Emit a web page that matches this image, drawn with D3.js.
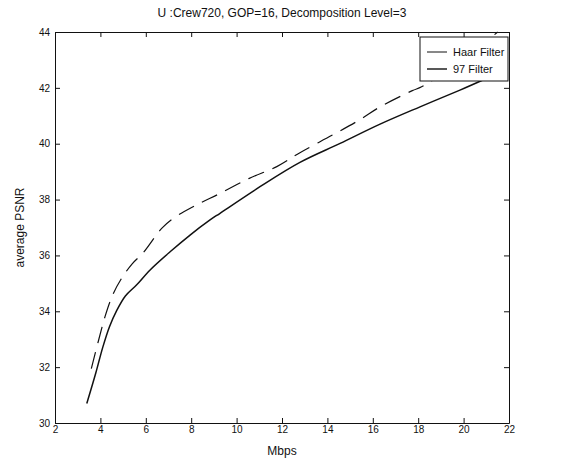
<!DOCTYPE html>
<html>
<head>
<meta charset="utf-8">
<script src="https://cdn.jsdelivr.net/npm/d3@7"></script>
<style>
  body { margin: 0; background: #fff; }
  text { font-family: "Liberation Sans", Arial, sans-serif; fill: #111; }
</style>
</head>
<body>
<div id="chart"></div>
<script>
// Data (Mbps, average PSNR)
const haar_mbps = [3.6, 3.9, 4.2, 4.55, 4.95, 5.4, 5.89, 6.7, 7.21, 8.24, 9.27, 10.56, 11.77, 12.79, 14.22, 15.41, 16.32, 17.74, 18.15, 19.5, 20.6, 21.5];
const haar_psnr = [31.95, 32.9, 33.8, 34.6, 35.2, 35.7, 36.1, 36.97, 37.33, 37.81, 38.22, 38.76, 39.18, 39.68, 40.31, 40.85, 41.32, 41.9, 42.04, 42.75, 43.4, 44.0];

const f97_mbps = [3.4, 3.8, 4.1, 4.4, 4.7, 5.1, 5.6, 6.19, 7.07, 7.95, 8.83, 9.27, 11.03, 12.79, 14.56, 16.32, 18.08, 19.84, 20.9];
const f97_psnr = [30.7, 31.8, 32.7, 33.45, 34.0, 34.55, 34.95, 35.48, 36.13, 36.73, 37.27, 37.51, 38.46, 39.33, 40.01, 40.7, 41.32, 41.92, 42.3];

const x_ticks = [2, 4, 6, 8, 10, 12, 14, 16, 18, 20, 22];
const y_ticks = [30, 32, 34, 36, 38, 40, 42, 44];
const legend_labels = ['Haar Filter', '97 Filter'];

const width = 566, height = 464;
const margin = { top: 32, right: 57, bottom: 41, left: 55 };

const svg = d3.select('#chart').append('svg')
  .attr('width', width)
  .attr('height', height)
  .attr('viewBox', [0, 0, width, height]);

const x = d3.scaleLinear().domain([2, 22]).range([margin.left, width - margin.right]);
const y = d3.scaleLinear().domain([30, 44]).range([height - margin.bottom, margin.top]);

// curves
const haar = haar_mbps.map((m, i) => [m, haar_psnr[i]]);
const f97 = f97_mbps.map((m, i) => [m, f97_psnr[i]]);

const line = d3.line().x(d => x(d[0])).y(d => y(d[1])).curve(d3.curveCatmullRom.alpha(0.5));

const plot = svg.append('g');
plot.append('path')
  .attr('d', line(haar))
  .attr('fill', 'none')
  .attr('stroke', '#111')
  .attr('stroke-width', 1.2)
  .attr('stroke-dasharray', '17,9');

plot.append('path')
  .attr('d', line(f97))
  .attr('fill', 'none')
  .attr('stroke', '#111')
  .attr('stroke-width', 1.5);

// axes, ticks pointing in, on all four sides
const fmt = d3.format('d');
const axes = svg.append('g').attr('font-size', 12);

axes.append('g')
  .attr('transform', `translate(0,${height - margin.bottom})`)
  .call(d3.axisBottom(x).tickValues(x_ticks).tickFormat(fmt).tickSizeInner(-5).tickSizeOuter(0).tickPadding(3));
axes.append('g')
  .attr('transform', `translate(${margin.left},0)`)
  .call(d3.axisLeft(y).tickValues(y_ticks).tickFormat(fmt).tickSizeInner(-5).tickSizeOuter(0).tickPadding(5));
axes.append('g')
  .attr('transform', `translate(0,${margin.top})`)
  .call(d3.axisTop(x).tickValues(x_ticks).tickFormat('').tickSizeInner(-5).tickSizeOuter(0));
axes.append('g')
  .attr('transform', `translate(${width - margin.right},0)`)
  .call(d3.axisRight(y).tickValues(y_ticks).tickFormat('').tickSizeInner(-5).tickSizeOuter(0));

axes.selectAll('.domain').attr('stroke', '#111');
axes.selectAll('.tick line').attr('stroke', '#111');
axes.selectAll('.tick text').attr('fill', '#111').attr('font-family', '"Liberation Sans", Arial, sans-serif');

// titles
svg.append('text')
  .attr('x', (margin.left + width - margin.right) / 2)
  .attr('y', 17)
  .attr('text-anchor', 'middle')
  .attr('font-size', 12)
  .text('U :Crew720, GOP=16, Decomposition Level=3');

svg.append('text')
  .attr('x', (margin.left + width - margin.right) / 2)
  .attr('y', 455)
  .attr('text-anchor', 'middle')
  .attr('font-size', 12)
  .text('Mbps');

svg.append('text')
  .attr('transform', `translate(24,${(margin.top + height - margin.bottom) / 2}) rotate(-90)`)
  .attr('text-anchor', 'middle')
  .attr('font-size', 12)
  .text('average PSNR');

// legend
const legend = svg.append('g').attr('transform', 'translate(420,37)');
legend.append('rect')
  .attr('width', 88).attr('height', 44)
  .attr('fill', '#fff').attr('stroke', '#111');

legend_labels.forEach((label, i) => {
  const row = legend.append('g').attr('transform', `translate(0,${15 + i * 17})`);
  row.append('line')
    .attr('x1', 7).attr('x2', 27)
    .attr('stroke', '#111')
    .attr('stroke-width', i === 0 ? 1 : 1.4);
  row.append('text')
    .attr('x', 33).attr('y', 4)
    .attr('font-size', 11)
    .text(label);
});
</script>
</body>
</html>
